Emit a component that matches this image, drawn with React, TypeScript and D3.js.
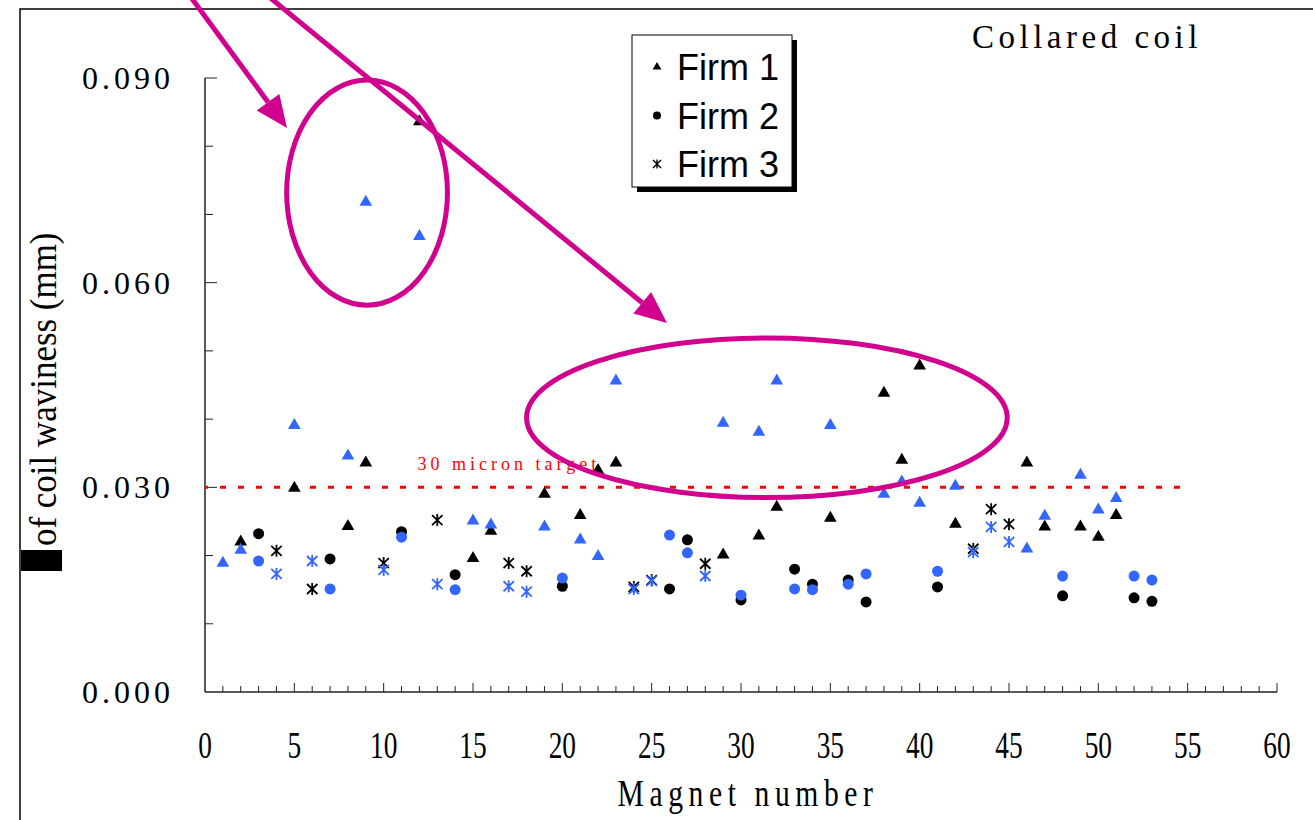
import { useEffect, useRef } from "react";
import * as d3 from "d3";

// magnet numbers and the two measurements (black / blue) per firm
const firm1Magnets = [1, 2, 5, 8, 9, 12, 15, 16, 19, 21, 22, 23, 29, 31, 32, 35, 38, 39, 40, 42, 46, 47, 49, 50, 51];
const firm1Black = [null, 0.022, 0.0299, 0.0243, 0.0336, 0.0836, 0.0196, 0.0236, 0.029, 0.0259, 0.0325, 0.0336, 0.0201, 0.0229, 0.0271, 0.0255, 0.0438, 0.034, 0.0478, 0.0246, 0.0336, 0.0242, 0.0242, 0.0227, 0.0259];
const firm1Blue = [0.0189, 0.0208, 0.0391, 0.0346, 0.0718, 0.0668, 0.0251, 0.0245, 0.0242, 0.0223, 0.0199, 0.0456, 0.0394, 0.0381, 0.0456, 0.0391, 0.029, 0.0308, 0.0277, 0.0302, 0.021, 0.0258, 0.0318, 0.0267, 0.0284];

const firm2Magnets = [3, 7, 11, 14, 20, 26, 27, 30, 33, 34, 36, 37, 41, 48, 52, 53];
const firm2Black = [0.0232, 0.0195, 0.0235, 0.0172, 0.0155, 0.0151, 0.0223, 0.0135, 0.018, 0.0158, 0.0164, 0.0132, 0.0154, 0.0141, 0.0138, 0.0133];
const firm2Blue = [0.0192, 0.0151, 0.0227, 0.015, 0.0167, 0.023, 0.0204, 0.0142, 0.0151, 0.015, 0.0158, 0.0173, 0.0177, 0.017, 0.017, 0.0164];

const firm3Magnets = [4, 6, 10, 13, 17, 18, 24, 25, 28, 43, 44, 45];
const firm3Black = [0.0207, 0.0151, 0.0189, 0.0252, 0.0189, 0.0177, 0.0154, 0.0164, 0.0188, 0.021, 0.0268, 0.0246];
const firm3Blue = [0.0173, 0.0192, 0.0179, 0.0158, 0.0155, 0.0147, 0.0151, 0.0163, 0.017, 0.0205, 0.0242, 0.022];

const xTicks = [0, 5, 10, 15, 20, 25, 30, 35, 40, 45, 50, 55, 60];
const yTicks = [0, 0.03, 0.06, 0.09];
const legendLabels = ["Firm 1", "Firm 2", "Firm 3"];
const target = 0.03;

const BLUE = "#3366ff";
const MAGENTA = "#d1008f";
const SERIF = "'Liberation Serif', 'Times New Roman', serif";
const SANS = "'Liberation Sans', Arial, sans-serif";

const asterisk = "M0,-6V6M-5.2,-5L5.2,5M-5.2,5L5.2,-5";

const App = () => {
  const ref = useRef<SVGSVGElement>(null);

  useEffect(() => {
    const svg = d3.select(ref.current);
    svg.selectAll("*").remove();

    const x = d3.scaleLinear().domain([0, 60]).range([205, 1277]);
    const y = d3.scaleLinear().domain([0, 0.09]).range([692, 78]);

    // outer frame
    svg.append("path").attr("d", "M20,830V9H1330").attr("fill", "none").attr("stroke", "#000").attr("stroke-width", 1.5);

    // axes
    const ax = svg.append("g").attr("stroke", "#222").attr("stroke-width", 1.5);
    ax.append("line").attr("x1", x(0)).attr("x2", x(60)).attr("y1", y(0)).attr("y2", y(0));
    ax.append("line").attr("x1", x(0)).attr("x2", x(0)).attr("y1", y(0)).attr("y2", y(0.09));
    d3.range(1, 61).forEach((t) => {
      ax.append("line").attr("x1", x(t)).attr("x2", x(t)).attr("y1", y(0)).attr("y2", y(0) - (t % 5 === 0 ? 9 : 6)).attr("stroke-width", 1);
    });
    d3.range(1, 10).forEach((i) => {
      const v = i * 0.01;
      ax.append("line").attr("x1", x(0)).attr("x2", x(0) + (i % 3 === 0 ? 12 : 8)).attr("y1", y(v)).attr("y2", y(v)).attr("stroke-width", 1);
    });

    svg.selectAll(".ytick").data(yTicks).enter().append("text")
      .attr("x", 174).attr("y", (d) => y(d) + 11)
      .attr("text-anchor", "end")
      .style("font-family", SERIF).style("font-size", "32px").style("letter-spacing", "4px")
      .text((d) => d.toFixed(3));

    svg.selectAll(".xtick").data(xTicks).enter().append("text")
      .attr("transform", (d) => `translate(${x(d)},758) scale(0.72,1)`)
      .attr("text-anchor", "middle")
      .style("font-family", SERIF).style("font-size", "38px")
      .text((d) => d);

    svg.append("text")
      .attr("transform", "translate(748,806) scale(0.8,1)")
      .attr("text-anchor", "middle")
      .style("font-family", SERIF).style("font-size", "37px").style("letter-spacing", "7px")
      .text("Magnet number");

    svg.append("rect").attr("x", 21).attr("y", 550).attr("width", 41).attr("height", 21).attr("fill", "#000");
    svg.append("text")
      .attr("transform", "translate(56,546) rotate(-90) scale(0.92,1)")
      .style("font-family", SERIF).style("font-size", "38px")
      .text("of coil waviness (mm)");

    svg.append("text")
      .attr("x", 972).attr("y", 48)
      .style("font-family", SERIF).style("font-size", "33px").style("letter-spacing", "4.5px")
      .text("Collared coil");

    // target line
    svg.append("line")
      .attr("x1", x(0)).attr("x2", x(55)).attr("y1", y(target)).attr("y2", y(target))
      .attr("stroke", "#ff0000").attr("stroke-width", 3)
      .attr("stroke-dasharray", "6,12").attr("stroke-dashoffset", -15);
    svg.append("text")
      .attr("x", x(11.9)).attr("y", y(target) - 17)
      .attr("fill", "#ff0000")
      .style("font-family", SERIF).style("font-size", "18px").style("letter-spacing", "4px")
      .text("30 micron target");

    // points
    const tri = d3.symbol().type(d3.symbolTriangle).size(70)();
    const circ = d3.symbol().type(d3.symbolCircle).size(95)();

    const drawSeries = (mags: number[], vals: (number | null)[], kind: string, color: string) => {
      const pts = mags.map((m, i) => ({ m, v: vals[i] })).filter((d) => d.v !== null) as { m: number; v: number }[];
      const sel = svg.append("g").selectAll("path").data(pts).enter().append("path")
        .attr("transform", (d) => `translate(${x(d.m)},${y(d.v)})`);
      if (kind === "star") {
        sel.attr("d", asterisk).attr("fill", "none").attr("stroke", color).attr("stroke-width", 1.8);
      } else {
        sel.attr("d", kind === "tri" ? tri : circ).attr("fill", color);
      }
    };

    drawSeries(firm1Magnets, firm1Black, "tri", "#000");
    drawSeries(firm2Magnets, firm2Black, "circ", "#000");
    drawSeries(firm3Magnets, firm3Black, "star", "#000");
    drawSeries(firm1Magnets, firm1Blue, "tri", BLUE);
    drawSeries(firm2Magnets, firm2Blue, "circ", BLUE);
    drawSeries(firm3Magnets, firm3Blue, "star", BLUE);

    // legend
    const lg = svg.append("g");
    lg.append("rect").attr("x", 637).attr("y", 40).attr("width", 160).attr("height", 152).attr("fill", "#000");
    lg.append("rect").attr("x", 632).attr("y", 35).attr("width", 160).attr("height", 152).attr("fill", "#fff").attr("stroke", "#000").attr("stroke-width", 1);
    const smallTri = d3.symbol().type(d3.symbolTriangle).size(34)();
    const smallCirc = d3.symbol().type(d3.symbolCircle).size(50)();
    legendLabels.forEach((lab, i) => {
      const cy = 67 + i * 48.5;
      const mk = lg.append("path").attr("transform", `translate(657,${cy})`);
      if (i === 0) mk.attr("d", smallTri).attr("fill", "#000");
      else if (i === 1) mk.attr("d", smallCirc).attr("fill", "#000");
      else mk.attr("d", "M0,-4.5V4.5M-4,-4L4,4M-4,4L4,-4").attr("fill", "none").attr("stroke", "#000").attr("stroke-width", 1.4);
      lg.append("text").attr("x", 677).attr("y", cy + 13)
        .style("font-family", SANS).style("font-size", "36px")
        .text(lab);
    });

    // annotations
    const ann = svg.append("g").attr("stroke", MAGENTA).attr("fill", "none").attr("stroke-width", 5);
    ann.append("ellipse").attr("cx", x(9.07)).attr("cy", y(0.0732)).attr("rx", x(4.5) - x(0)).attr("ry", y(0) - y(0.0165));
    ann.append("ellipse").attr("cx", x(31.45)).attr("cy", y(0.0402)).attr("rx", x(13.45) - x(0)).attr("ry", y(0) - y(0.0117));

    const arrow = (x1: number, y1: number, x2: number, y2: number) => {
      const a = Math.atan2(y2 - y1, x2 - x1);
      const len = 32, half = 14;
      const bx = x2 - len * Math.cos(a), by = y2 - len * Math.sin(a);
      ann.append("line").attr("x1", x1).attr("y1", y1).attr("x2", bx).attr("y2", by);
      const pts = [
        [x2, y2],
        [bx + half * Math.sin(a), by - half * Math.cos(a)],
        [bx - half * Math.sin(a), by + half * Math.cos(a)],
      ];
      svg.append("polygon").attr("points", pts.map((p) => p.join(",")).join(" ")).attr("fill", MAGENTA);
    };
    arrow(190, -4, 287, 128);
    arrow(268, -4, 667, 323);
  }, []);

  return (
    <svg ref={ref} width={1313} height={820} style={{ position: "absolute", left: 0, top: 0, background: "#fff" }} />
  );
};

export default App;
